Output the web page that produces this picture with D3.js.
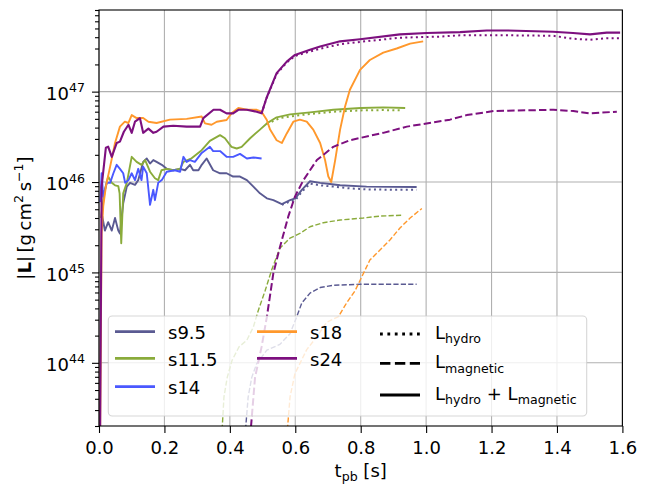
<!DOCTYPE html>
<html>
<head>
<meta charset="utf-8">
<script src="https://cdn.jsdelivr.net/npm/d3@7"></script>
<style>
  body { margin: 0; background: #fff; }
  svg { display: block; }
  text { font-family: "DejaVu Sans", sans-serif; white-space: pre; fill: #000; }
</style>
</head>
<body>
<svg id="chart" width="650" height="485"></svg>
<script>
// Progenitor models shown in the legend
const models = ["s9.5", "s11.5", "s14", "s18", "s24"];
const modelColors = ["#5a5a92", "#8aab3b", "#4a58ff", "#ff982c", "#7d107f"];

// Axis ticks
const xTickValues = [0, 0.2, 0.4, 0.6, 0.8, 1.0, 1.2, 1.4, 1.6];
const yMajorValues = [1e44, 1e45, 1e46, 1e47];

// [t_pb (s), |L| (g cm^2 s^-1)] — total angular momentum L_hydro + L_magnetic
const totalS95 = [[0.010,4.2e45],[0.018,2.9e45],[0.028,3.6e45],[0.039,2.9e45],[0.049,4.0e45],[0.059,2.9e45],[0.064,2.7e45],[0.074,5.8e45],[0.085,8.9e45],[0.095,9.8e45],[0.110,9.3e45],[0.120,1.05e46],[0.135,1.67e46],[0.146,1.82e46],[0.156,1.6e46],[0.166,1.75e46],[0.176,1.67e46],[0.192,1.55e46],[0.207,1.4e46],[0.227,1.35e46],[0.248,1.4e46],[0.263,1.35e46],[0.278,1.55e46],[0.288,1.35e46],[0.304,1.35e46],[0.314,1.55e46],[0.329,1.82e46],[0.349,1.35e46],[0.370,1.25e46],[0.390,1.25e46],[0.410,1.15e46],[0.431,1.15e46],[0.452,1.05e46],[0.472,8.9e45],[0.492,7.5e45],[0.513,6.6e45],[0.533,6.3e45],[0.559,5.7e45],[0.584,6.3e45],[0.600,6.6e45],[0.620,8.2e45],[0.645,1.02e46],[0.676,9.8e45],[0.706,9.5e45],[0.737,9.2e45],[0.818,8.9e45],[0.971,8.8e45]];
const totalS115 = [[0.006,4.0e45],[0.018,8.2e45],[0.028,1.15e46],[0.039,9.8e45],[0.049,9.2e45],[0.059,9.0e45],[0.063,7.5e45],[0.068,2.1e45],[0.074,7.5e45],[0.085,9.8e45],[0.100,1.9e46],[0.115,1.67e46],[0.130,1.55e46],[0.141,1.75e46],[0.156,1.3e46],[0.171,1.1e46],[0.181,1.05e46],[0.191,1.35e46],[0.207,1.4e46],[0.227,1.35e46],[0.248,1.4e46],[0.258,1.67e46],[0.283,1.83e46],[0.314,2.25e46],[0.339,2.85e46],[0.370,3.3e46],[0.385,3.05e46],[0.405,2.45e46],[0.421,2.35e46],[0.436,2.45e46],[0.462,3.05e46],[0.492,3.8e46],[0.513,4.45e46],[0.543,5.2e46],[0.584,5.6e46],[0.645,5.9e46],[0.716,6.3e46],[0.800,6.6e46],[0.869,6.7e46],[0.936,6.6e46]];
const totalS14 = [[0.004,6.0e45],[0.008,1.25e46],[0.013,6.9e45],[0.024,9.8e45],[0.034,9.8e45],[0.044,1.25e46],[0.054,1.55e46],[0.064,1.4e46],[0.074,1.25e46],[0.080,9.8e45],[0.090,1.05e46],[0.100,1.25e46],[0.110,1.05e46],[0.120,1.4e46],[0.130,1.05e46],[0.135,1.48e46],[0.146,1.25e46],[0.156,5.6e45],[0.166,8.2e45],[0.171,6.3e45],[0.181,9.8e45],[0.192,1.05e46],[0.207,1.3e46],[0.232,1.35e46],[0.248,1.3e46],[0.258,1.9e46],[0.268,1.67e46],[0.278,1.75e46],[0.293,1.67e46],[0.314,2.1e46],[0.339,2.45e46],[0.349,2.2e46],[0.370,2.2e46],[0.390,1.9e46],[0.410,1.9e46],[0.431,2.05e46],[0.452,1.82e46],[0.472,1.87e46],[0.497,1.82e46]];
const totalS18 = [[0.003,1e43],[0.008,2.7e45],[0.013,5.4e45],[0.021,8.9e45],[0.034,1.48e46],[0.049,2.7e46],[0.064,4.1e46],[0.079,4.65e46],[0.090,4.5e46],[0.100,5.5e46],[0.115,5.1e46],[0.135,5.1e46],[0.151,4.65e46],[0.176,4.5e46],[0.217,4.9e46],[0.268,5.0e46],[0.314,5.3e46],[0.324,4.45e46],[0.344,4.3e46],[0.360,4.65e46],[0.390,4.85e46],[0.405,5.75e46],[0.426,6.6e46],[0.452,6.3e46],[0.482,6.3e46],[0.497,6.0e46],[0.513,4.85e46],[0.523,3.8e46],[0.543,2.9e46],[0.559,2.7e46],[0.574,3.45e46],[0.594,4.65e46],[0.614,4.9e46],[0.635,4.65e46],[0.655,3.8e46],[0.676,2.7e46],[0.691,1.75e46],[0.701,1.15e46],[0.710,1.0e46],[0.722,1.75e46],[0.737,3.8e46],[0.752,6.8e46],[0.767,1.05e47],[0.798,1.74e47],[0.828,2.24e47],[0.869,2.7e47],[0.910,3.0e47],[0.951,3.4e47],[0.991,3.6e47]];
const totalS24 = [[0.003,1e43],[0.008,8.9e45],[0.021,2.4e46],[0.028,2.46e46],[0.039,1.9e46],[0.054,2.7e46],[0.064,2.8e46],[0.076,3.6e46],[0.090,4.3e46],[0.100,3.5e46],[0.110,4.65e46],[0.125,5.1e46],[0.135,3.5e46],[0.151,3.9e46],[0.166,3.5e46],[0.176,3.6e46],[0.197,4.1e46],[0.227,4.2e46],[0.268,4.1e46],[0.309,4.1e46],[0.319,5.1e46],[0.350,6.3e46],[0.370,6.3e46],[0.390,5.75e46],[0.410,5.75e46],[0.426,6.3e46],[0.452,6.3e46],[0.482,6.0e46],[0.497,5.75e46],[0.512,8.5e46],[0.543,1.6e47],[0.574,2.15e47],[0.599,2.55e47],[0.645,2.9e47],[0.676,3.15e47],[0.737,3.6e47],[0.798,3.8e47],[0.920,4.3e47],[1.002,4.45e47],[1.104,4.55e47],[1.185,4.75e47],[1.246,4.75e47],[1.388,4.6e47],[1.449,4.45e47],[1.501,4.3e47],[1.552,4.5e47],[1.593,4.5e47]];

// Hydrodynamic part L_hydro (where it separates from the total)
const hydroS95 = [[0.559,5.6e45],[0.584,6.1e45],[0.600,6.3e45],[0.620,7.8e45],[0.645,9.6e45],[0.676,9.2e45],[0.716,8.9e45],[0.767,8.5e45],[0.818,8.3e45],[0.900,8.2e45],[0.971,8.2e45]];
const hydroS115 = [[0.513,4.4e46],[0.553,5.1e46],[0.614,5.5e46],[0.716,6.0e46],[0.800,6.2e46],[0.869,6.25e46],[0.925,6.2e46]];
const hydroS24 = [[0.497,5.75e46],[0.512,8.4e46],[0.543,1.57e47],[0.574,2.1e47],[0.599,2.48e47],[0.645,2.78e47],[0.676,2.98e47],[0.737,3.35e47],[0.798,3.55e47],[0.920,3.95e47],[1.040,4.06e47],[1.104,4.2e47],[1.246,4.2e47],[1.388,4.15e47],[1.449,3.85e47],[1.501,3.75e47],[1.552,3.9e47],[1.593,3.9e47]];

// Magnetic part L_magnetic
const magS95 = [[0.446,1.5e43],[0.456,4.2e43],[0.467,6.9e43],[0.482,9.8e43],[0.513,1.38e44],[0.553,1.6e44],[0.584,2.1e44],[0.604,3.2e44],[0.620,4.6e44],[0.645,5.9e44],[0.676,6.8e44],[0.716,7.2e44],[0.798,7.4e44],[0.971,7.4e44]];
const magS115 = [[0.375,1.5e43],[0.382,4.2e43],[0.392,6.9e43],[0.407,1.07e44],[0.428,1.5e44],[0.452,1.78e44],[0.472,2.5e44],[0.487,3.8e44],[0.508,6.3e44],[0.528,1.07e45],[0.553,1.85e45],[0.584,2.4e45],[0.614,2.7e45],[0.645,3.2e45],[0.686,3.55e45],[0.737,3.8e45],[0.808,4.0e45],[0.859,4.2e45],[0.930,4.3e45]];
const magS18 = [[0.574,1.5e43],[0.584,4.2e43],[0.599,7.6e43],[0.614,9.8e43],[0.635,1.4e44],[0.666,1.95e44],[0.696,2.8e44],[0.732,3.25e44],[0.757,4.6e44],[0.783,6.3e44],[0.803,8.9e44],[0.828,1.37e45],[0.859,1.77e45],[0.890,2.3e45],[0.920,3.1e45],[0.951,4.0e45],[0.987,5.1e45]];
const magS24 = [[0.462,1.5e43],[0.477,6.9e43],[0.497,1.5e44],[0.513,3.2e44],[0.533,9.8e44],[0.553,1.9e45],[0.579,4.2e45],[0.599,6.9e45],[0.625,1.05e46],[0.645,1.35e46],[0.666,1.75e46],[0.716,2.45e46],[0.767,2.9e46],[0.869,3.5e46],[0.941,4.1e46],[1.073,4.9e46],[1.124,5.5e46],[1.206,6.1e46],[1.389,6.3e46],[1.450,6.1e46],[1.500,5.75e46],[1.583,6.0e46]];

const totals = [totalS95, totalS115, totalS14, totalS18, totalS24];
const hydros = [hydroS95, hydroS115, null, null, hydroS24];
const mags = [magS95, magS115, null, magS18, magS24];

// ---- layout ----
const svg = d3.select("#chart");
const plot = { left: 99, right: 622.4, top: 10, bottom: 426 };
const FS = 18;

const x = d3.scaleLinear().domain([0, 1.6]).range([plot.left, plot.right]);
const y = d3.scaleLog().domain([2e43, 8e47]).range([plot.bottom, plot.top]);

// text with sub/superscripts: parts = [[string, mode]], mode in n|b|sub|sup
function rich(textSel, parts, fs) {
  let off = 0;
  parts.forEach(([s, m]) => {
    const target = m === "sub" ? 0.24 * fs : (m === "sup" ? -0.42 * fs : 0);
    const ts = textSel.append("tspan").text(s).attr("dy", target - off);
    if (m === "sub" || m === "sup") ts.attr("font-size", 0.7 * fs);
    if (m === "b") ts.attr("font-weight", "bold");
    off = target;
  });
  return textSel;
}

// grid
const grid = svg.append("g").attr("stroke", "#b0b0b0").attr("stroke-width", 1.1);
grid.selectAll("line.gx").data(xTickValues).join("line")
  .attr("x1", d => x(d)).attr("x2", d => x(d))
  .attr("y1", plot.top).attr("y2", plot.bottom);
grid.selectAll("line.gy").data(yMajorValues).join("line")
  .attr("y1", d => y(d)).attr("y2", d => y(d))
  .attr("x1", plot.left).attr("x2", plot.right);

// data lines
svg.append("clipPath").attr("id", "clip").append("rect")
  .attr("x", plot.left).attr("y", plot.top)
  .attr("width", plot.right - plot.left).attr("height", plot.bottom - plot.top);
const lines = svg.append("g").attr("clip-path", "url(#clip)")
  .attr("fill", "none").attr("stroke-linejoin", "round");
const lineGen = d3.line().x(d => x(d[0])).y(d => y(d[1]));

models.forEach((m, i) => {
  const c = modelColors[i];
  const heavy = m === "s24";
  if (hydros[i]) {
    lines.append("path").attr("d", lineGen(hydros[i]))
      .attr("stroke", c).attr("stroke-width", 2.0)
      .attr("stroke-dasharray", "2,3.3");
  }
  if (mags[i]) {
    lines.append("path").attr("d", lineGen(mags[i]))
      .attr("stroke", c).attr("stroke-width", heavy ? 2.0 : 1.4)
      .attr("stroke-dasharray", heavy ? "7.4,3.2" : "5.2,2.2");
  }
  lines.append("path").attr("d", lineGen(totals[i]))
    .attr("stroke", c).attr("stroke-width", heavy ? 2.1 : 1.9);
});

// axes
const axes = svg.append("g");
const xAxis = axes.append("g").attr("transform", `translate(0,${plot.bottom})`)
  .call(d3.axisBottom(x).tickValues(xTickValues).tickSize(7).tickPadding(5)
    .tickFormat(d3.format(".1f")));
xAxis.select(".domain").remove();
xAxis.selectAll("text").attr("font-size", FS).attr("font-family", "DejaVu Sans")
  .attr("y", 28).attr("dy", null);

const minorY = y.ticks().filter(v => Math.abs(Math.log10(v) - Math.round(Math.log10(v))) > 1e-6);
const yMinor = axes.append("g").attr("transform", `translate(${plot.left},0)`)
  .call(d3.axisLeft(y).tickValues(minorY).tickSize(4).tickFormat(""));
yMinor.select(".domain").remove();
const yAxis = axes.append("g").attr("transform", `translate(${plot.left},0)`)
  .call(d3.axisLeft(y).tickValues(yMajorValues).tickSize(7).tickFormat(""));
yAxis.select(".domain").remove();
yAxis.selectAll(".tick").each(function (d) {
  const t = d3.select(this).append("text")
    .attr("x", -14).attr("y", 7.6).attr("text-anchor", "end")
    .attr("font-size", FS).attr("fill", "#000");
  rich(t, [["10", "n"], [String(Math.round(Math.log10(d))), "sup"]], FS);
});
axes.selectAll(".tick line").attr("stroke", "#000").attr("stroke-width", 1.1);

// spines
svg.append("rect").attr("x", plot.left).attr("y", plot.top)
  .attr("width", plot.right - plot.left).attr("height", plot.bottom - plot.top)
  .attr("fill", "none").attr("stroke", "#000").attr("stroke-width", 1.1);

// axis labels
rich(svg.append("text").attr("x", 360.7).attr("y", 477).attr("text-anchor", "middle")
  .attr("font-size", FS), [["t", "n"], ["pb", "sub"], [" [s]", "n"]], FS);

rich(svg.append("text").attr("transform", "translate(31,218) rotate(-90)")
  .attr("text-anchor", "middle").attr("font-size", FS),
  [["|", "n"], ["L", "b"], ["|\u2009[g\u2009cm", "n"], ["2", "sup"], ["\u2009s", "n"], ["\u22121", "sup"], ["]", "n"]], FS);

// legend
const legend = svg.append("g");
legend.append("rect").attr("x", 108.3).attr("y", 316).attr("width", 478.4).attr("height", 100)
  .attr("rx", 4).attr("fill", "#fff").attr("fill-opacity", 0.8)
  .attr("stroke", "#cccccc").attr("stroke-opacity", 0.8).attr("stroke-width", 1.1);

const legendCols = [{ x: 115, rows: [331.7, 358.3, 386.7] }, { x: 257, rows: [331.7, 358.3] }];
let k = 0;
legendCols.forEach(col => {
  col.rows.forEach(ry => {
    if (k >= models.length) return;
    legend.append("line").attr("x1", col.x).attr("x2", col.x + 40).attr("y1", ry).attr("y2", ry)
      .attr("stroke", modelColors[k]).attr("stroke-width", 2.8);
    legend.append("text").attr("x", col.x + 53).attr("y", ry + 7.3).attr("font-size", FS).text(models[k]);
    k++;
  });
});

const styleRows = [
  { y: 334, dash: "2.8,4.6", parts: [["L", "n"], ["hydro", "sub"]] },
  { y: 363.3, dash: "10.4,4.5", parts: [["L", "n"], ["magnetic", "sub"]] },
  { y: 395, dash: null, parts: [["L", "n"], ["hydro", "sub"], [" + L", "n"], ["magnetic", "sub"]] }
];
styleRows.forEach(r => {
  const ln = legend.append("line").attr("x1", 380).attr("x2", 420).attr("y1", r.y).attr("y2", r.y)
    .attr("stroke", "#000").attr("stroke-width", 2.8);
  if (r.dash) ln.attr("stroke-dasharray", r.dash);
  rich(legend.append("text").attr("x", 435).attr("y", r.y + 5).attr("font-size", FS), r.parts, FS);
});
</script>
</body>
</html>
